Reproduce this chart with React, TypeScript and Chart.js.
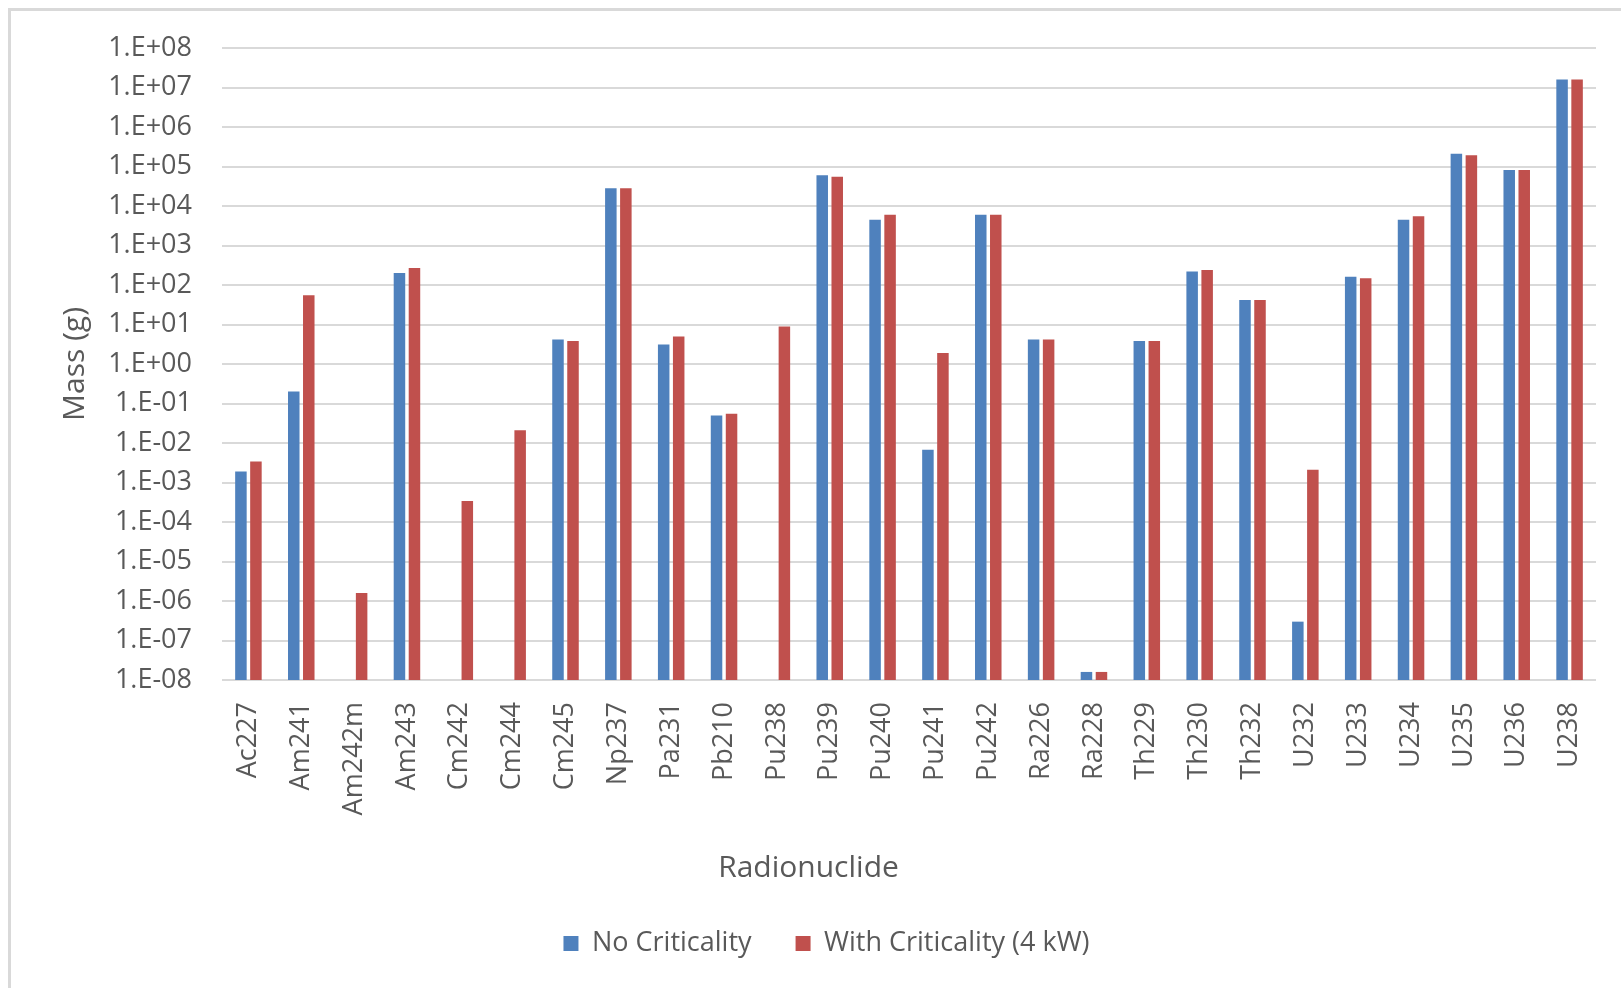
import React, { useEffect, useRef } from "react";
import { Chart, registerables } from "chart.js";

Chart.register(...registerables);

const categories = [
  "Ac227", "Am241", "Am242m", "Am243", "Cm242", "Cm244", "Cm245", "Np237", "Pa231",
  "Pb210", "Pu238", "Pu239", "Pu240", "Pu241", "Pu242", "Ra226", "Ra228", "Th229",
  "Th230", "Th232", "U232", "U233", "U234", "U235", "U236", "U238",
];

const noCriticality: (number | null)[] = [
  1.9e-3, 0.2, null, 200, null, null, 4.2, 28000, 3.1,
  0.05, null, 60000, 4500, 6.7e-3, 6000, 4.2, 1.6e-8, 3.8,
  220, 42, 3.0e-7, 162, 4500, 2.1e5, 8.1e4, 1.6e7,
];

const withCriticality: (number | null)[] = [
  3.4e-3, 55, 1.6e-6, 270, 3.4e-4, 0.021, 3.8, 28000, 5.0,
  0.055, 8.9, 55000, 6000, 1.9, 6000, 4.2, 1.6e-8, 3.8,
  240, 42, 2.1e-3, 148, 5500, 1.92e5, 8.1e4, 1.6e7,
];

const yTickValues = [
  1e-8, 1e-7, 1e-6, 1e-5, 1e-4, 1e-3, 1e-2, 1e-1, 1e0,
  1e1, 1e2, 1e3, 1e4, 1e5, 1e6, 1e7, 1e8,
];

const seriesNames = ["No Criticality", "With Criticality (4 kW)"];
const xAxisTitle = "Radionuclide";
const yAxisTitle = "Mass (g)";

const FONT = '"Open Sans", "Noto Sans", sans-serif';
const TEXT = "#595959";
const GRID = "#d9d9d9";

function formatExp(v: number): string {
  const e = Math.round(Math.log10(v));
  const a = Math.abs(e);
  return "1.E" + (e < 0 ? "-" : "+") + (a < 10 ? "0" + a : String(a));
}

const xTitlePlugin = {
  id: "xTitleCentered",
  afterDraw(chart: any) {
    const ctx = chart.ctx;
    ctx.save();
    ctx.font = `30px ${FONT}`;
    ctx.fillStyle = TEXT;
    ctx.textAlign = "center";
    ctx.textBaseline = "middle";
    ctx.fillText(xAxisTitle, chart.width / 2 - 2, chart.chartArea.bottom + 188);
    ctx.restore();
  },
};

export default function App() {
  const ref = useRef<HTMLCanvasElement | null>(null);

  useEffect(() => {
    if (!ref.current) return;
    const chart = new Chart(ref.current, {
      type: "bar",
      data: {
        labels: categories,
        datasets: [
          {
            label: seriesNames[0],
            data: noCriticality,
            backgroundColor: "#4f81bd",
            borderWidth: 0,
            categoryPercentage: 0.568,
            barPercentage: 0.767,
          },
          {
            label: seriesNames[1],
            data: withCriticality,
            backgroundColor: "#c0504d",
            borderWidth: 0,
            categoryPercentage: 0.568,
            barPercentage: 0.767,
          },
        ],
      },
      options: {
        responsive: false,
        animation: false,
        layout: { padding: { left: 57, right: 25, top: 48, bottom: 21 } },
        plugins: {
          legend: {
            position: "bottom",
            labels: {
              boxWidth: 15,
              boxHeight: 15,
              padding: 44,
              color: TEXT,
              font: { family: FONT, size: 27 },
            },
          },
          tooltip: { enabled: false },
        },
        scales: {
          x: {
            grid: { display: false, drawTicks: false },
            border: { display: false },
            ticks: {
              autoSkip: false,
              minRotation: 90,
              maxRotation: 90,
              padding: 22,
              color: TEXT,
              font: { family: FONT, size: 27 },
            },
            afterFit(scale: any) {
              scale.height = 206;
              scale.paddingRight = 0;
              scale.paddingLeft = 0;
            },
          },
          y: {
            type: "logarithmic",
            min: 1e-8,
            max: 1e8,
            grid: { color: GRID, lineWidth: 2, drawTicks: false },
            border: { display: false },
            ticks: {
              autoSkip: false,
              padding: 30,
              color: TEXT,
              font: { family: FONT, size: 27 },
              callback: (v: any) => formatExp(Number(v)),
            },
            title: {
              display: true,
              text: yAxisTitle,
              color: TEXT,
              font: { family: FONT, size: 30 },
              padding: 0,
            },
            afterBuildTicks(scale: any) {
              scale.ticks = yTickValues.map((v) => ({ value: v }));
            },
            afterFit(scale: any) {
              scale.width = 165;
            },
          },
        },
      },
      plugins: [xTitlePlugin],
    } as any);
    return () => chart.destroy();
  }, []);

  return (
    <div
      style={{
        position: "fixed",
        left: 0,
        top: 0,
        width: 1621,
        height: 988,
        overflow: "hidden",
        background: "#fff",
      }}
    >
      <canvas ref={ref} width={1621} height={988} style={{ display: "block" }} />
      <div
        style={{
          position: "absolute",
          left: 8,
          top: 8,
          width: 2000,
          height: 2000,
          borderLeft: `3px solid ${GRID}`,
          borderTop: `3px solid ${GRID}`,
          pointerEvents: "none",
        }}
      />
    </div>
  );
}
